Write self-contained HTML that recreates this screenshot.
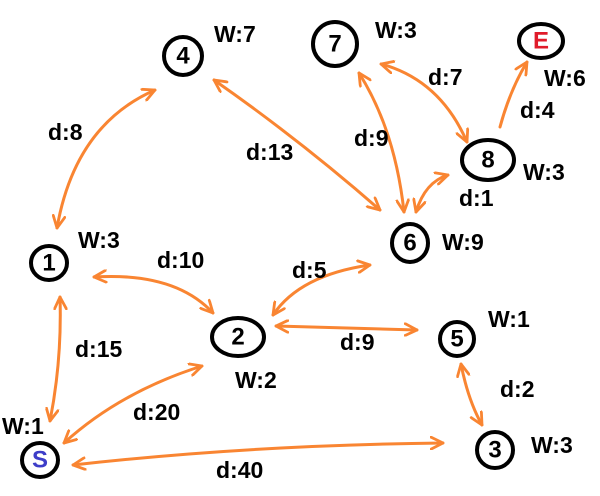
<!DOCTYPE html>
<html><head><meta charset="utf-8"><style>
html,body{margin:0;padding:0;background:#fff;}
svg{display:block}
text{font-family:"Liberation Sans",sans-serif;font-weight:bold;font-size:23px;fill:#000}
.n{font-size:24px;text-anchor:middle;dominant-baseline:central}
</style></head><body>
<svg width="600" height="496" viewBox="0 0 600 496">
<defs>
<marker id="a" viewBox="0 0 14 14" refX="13" refY="7" markerWidth="14" markerHeight="14" markerUnits="userSpaceOnUse" orient="auto-start-reverse">
<path d="M1,1 L13,7 L1,13" fill="none" stroke="#f98532" stroke-width="2.8" stroke-linecap="round" stroke-linejoin="round"/>
</marker>
</defs>
<g fill="none" stroke="#f98532" stroke-width="3" stroke-linecap="round" marker-start="url(#a)" marker-end="url(#a)">
<path d="M57,228 Q75,125 155,90"/>
<path d="M214,80 Q300,140 380,210"/>
<path d="M359,73 Q395,130 404,212"/>
<path d="M381,64 Q440,80 467,142"/>
<path d="M416,212 Q425,182 448,175"/>
<path d="M94,277 Q175,272 213,313"/>
<path d="M370,265 Q300,275 273,315"/>
<path d="M276,326 Q350,328 417,330"/>
<path d="M461,364 Q468,400 482,425"/>
<path d="M64,443 Q120,392 202,366"/>
<path d="M50,421 Q62,360 60,297"/>
<path d="M73,465 Q250,445 443,443"/>
<path d="M500,127 Q510,90 527,62" marker-start="none"/>
</g>
<g fill="none" stroke="#000" stroke-width="4">
<ellipse cx="49" cy="263" rx="18" ry="17"/>
<ellipse cx="40" cy="460" rx="18" ry="17"/>
<ellipse cx="238" cy="337" rx="26" ry="19"/>
<ellipse cx="183" cy="56" rx="19" ry="19"/>
<ellipse cx="335" cy="44" rx="22" ry="22"/>
<ellipse cx="541" cy="41" rx="22" ry="17"/>
<ellipse cx="488" cy="160" rx="26" ry="20"/>
<ellipse cx="410" cy="243" rx="18" ry="19"/>
<ellipse cx="457" cy="339" rx="17" ry="17"/>
<ellipse cx="495" cy="450" rx="18" ry="18"/>
</g>
<text class="n" x="49" y="263">1</text>
<text class="n" x="40" y="460" style="fill:#3d3dc8">S</text>
<text class="n" x="238" y="337">2</text>
<text class="n" x="183" y="56">4</text>
<text class="n" x="335" y="44">7</text>
<text class="n" x="541" y="41" style="fill:#e01b2a">E</text>
<text class="n" x="488" y="160">8</text>
<text class="n" x="410" y="243">6</text>
<text class="n" x="457" y="339">5</text>
<text class="n" x="495" y="450">3</text>
<text x="48" y="140">d:8</text>
<text x="214" y="42">W:7</text>
<text x="246" y="160">d:13</text>
<text x="375" y="38">W:3</text>
<text x="428" y="85">d:7</text>
<text x="354" y="146">d:9</text>
<text x="544" y="86">W:6</text>
<text x="520" y="118">d:4</text>
<text x="523" y="180">W:3</text>
<text x="459" y="206">d:1</text>
<text x="442" y="250">W:9</text>
<text x="78" y="248">W:3</text>
<text x="157" y="268">d:10</text>
<text x="292" y="278">d:5</text>
<text x="488" y="327">W:1</text>
<text x="340" y="350">d:9</text>
<text x="75" y="357">d:15</text>
<text x="235" y="388">W:2</text>
<text x="500" y="397">d:2</text>
<text x="133" y="420">d:20</text>
<text x="2" y="434">W:1</text>
<text x="216" y="478">d:40</text>
<text x="531" y="453">W:3</text>
</svg>
</body></html>
